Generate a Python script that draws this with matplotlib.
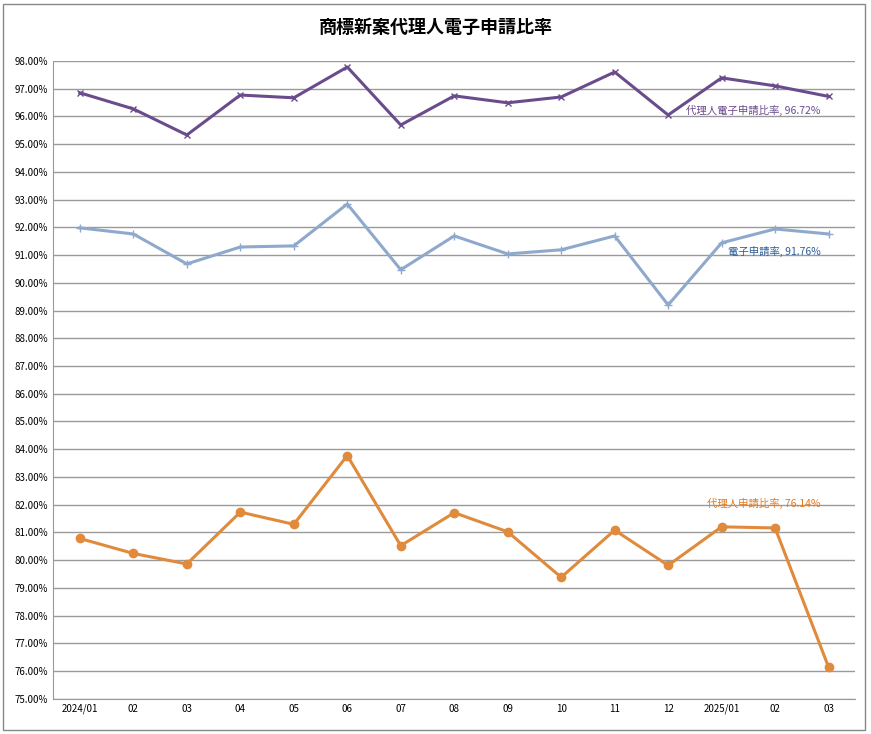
import matplotlib.pyplot as plt
from matplotlib import font_manager
from matplotlib.ticker import FuncFormatter

months = ['2024/01', '02', '03', '04', '05', '06', '07', '08', '09', '10', '11', '12', '2025/01', '02', '03']
agent_e = [96.85, 96.27, 95.33, 96.77, 96.67, 97.78, 95.69, 96.74, 96.49, 96.70, 97.60, 96.05, 97.39, 97.10, 96.72]
e_filing = [91.98, 91.76, 90.68, 91.29, 91.33, 92.84, 90.47, 91.69, 91.04, 91.19, 91.69, 89.20, 91.44, 91.94, 91.76]
agent = [80.78, 80.24, 79.86, 81.73, 81.29, 83.77, 80.52, 81.71, 81.02, 79.38, 81.08, 79.81, 81.20, 81.16, 76.14]

# find a CJK font actually registered
cjk = [f.name for f in font_manager.fontManager.ttflist if 'CJK' in f.name]
pref = [n for n in cjk if 'TC' in n] or cjk
plt.rcParams['font.family'] = (pref[:1] if pref else []) + ['DejaVu Sans']

fig = plt.figure(figsize=(8.71, 7.34), dpi=100)
ax = fig.add_axes([0.061, 0.048, 0.921, 0.869])
x = range(len(months))
ax.plot(x, agent_e, color='#6a4c8c', lw=2.2, marker='x', ms=5)
ax.plot(x, e_filing, color='#8fa9cc', lw=2.2, marker='+', ms=6)
ax.plot(x, agent, color='#e08a3c', lw=2.2, marker='o', ms=6)

ax.set_ylim(75, 98)
ax.set_xlim(-0.5, 14.5)
ax.set_yticks(range(75, 99))
ax.yaxis.set_major_formatter(FuncFormatter(lambda v, p: '%.2f%%' % v))
ax.set_xticks(list(x))
ax.set_xticklabels(months)
ax.tick_params(labelsize=7, length=0)
ax.grid(axis='y', color='#9a9a9a', lw=1)
ax.set_axisbelow(True)
for s in ['top', 'right']:
    ax.spines[s].set_visible(False)
for s in ['left', 'bottom']:
    ax.spines[s].set_color('#999999')

ax.text(13.85, agent_e[-1] - 0.65, '代理人電子申請比率, %.2f%%' % agent_e[-1], color='#6a4c8c', fontsize=7.5, ha='right')
ax.text(13.85, e_filing[-1] - 0.75, '電子申請率, %.2f%%' % e_filing[-1], color='#2e5f9a', fontsize=7.5, ha='right')
ax.text(13.85, 81.9, '代理人申請比率, %.2f%%' % agent[-1], color='#e07a20', fontsize=7.5, ha='right')

fig.text(0.5, 0.955, '商標新案代理人電子申請比率', ha='center', fontsize=13, fontweight='bold')
fig.patches.append(plt.Rectangle((0.003, 0.005), 0.99, 0.99, transform=fig.transFigure, fill=False, ec='#888888', lw=1))
fig.savefig('out.png', dpi=100)
